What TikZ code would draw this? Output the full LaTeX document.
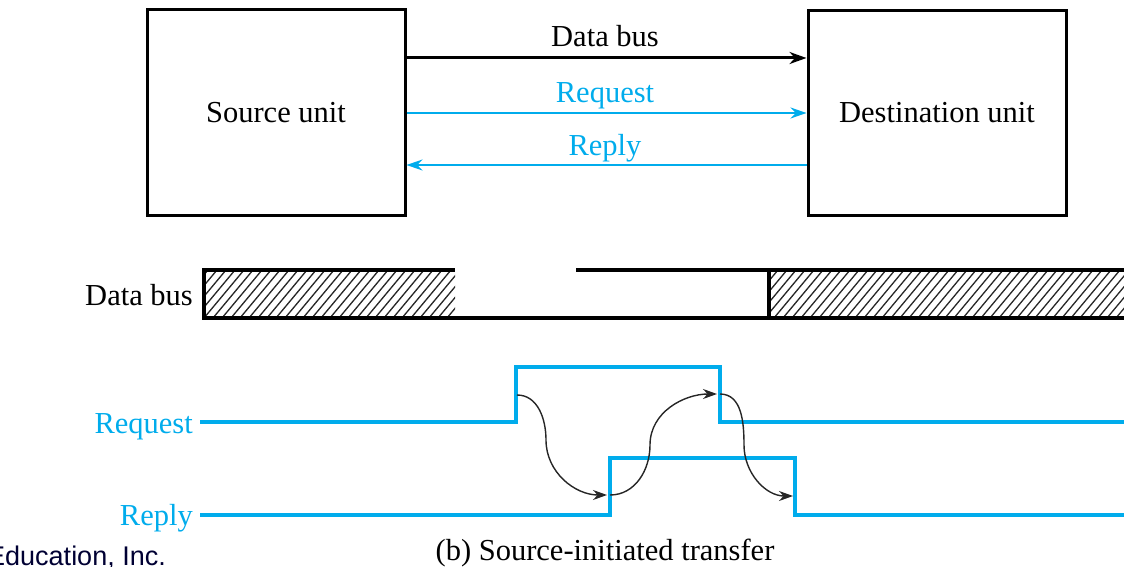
\documentclass[tikz,border=0pt]{standalone}
\usepackage{fontspec}
\setmainfont{Liberation Serif}
\newfontfamily\pubsans{Liberation Sans}
\usetikzlibrary{arrows.meta}
\definecolor{sig}{RGB}{0,172,236}
\tikzset{
  unitbox/.style={draw, line width=3pt, minimum width=258pt, minimum height=205pt, inner sep=0pt, font=\fontsize{30.5}{36}\selectfont},
  lbl/.style={anchor=base, font=\fontsize{30.5}{36}\selectfont, inner sep=0pt},
  busarrow/.style={line width=3pt, -{Stealth[length=17pt,width=12pt]}},
  sigarrow/.style={line width=1.8pt, draw=sig, -{Stealth[length=16pt,width=11pt]}},
  wave/.style={line width=4pt, draw=sig},
  barline/.style={line width=3.5pt},
  hatch/.style={line width=1.3pt, draw=black!85},
  causal/.style={line width=1.4pt, draw=black!85, -{Stealth[length=14pt,width=10pt]}}
}
\begin{document}
\begin{tikzpicture}[x=1pt,y=-1pt]
\useasboundingbox (0,0) rectangle (1124,567);
% top block diagram
\node[unitbox] (src) at (276,112.5) {Source unit};
\node[unitbox] (dst) at (937,113) {Destination unit};
\draw[busarrow] (src.east |- 0,58) -- (dst.west |- 0,58);
\draw[sigarrow] (src.east |- 0,113) -- (dst.west |- 0,113);
\draw[sigarrow] (dst.west |- 0,165) -- (src.east |- 0,165);
\node[lbl] (lbus) at (605,47) {Data bus};
\node[lbl, text=sig] (lreq) at (605,103) {Request};
\node[lbl, text=sig] (lrep) at (605,155) {Reply};
% data bus bar
\node[lbl, anchor=base east] (tbus) at (193,305) {Data bus};
\begin{scope}
  \clip (204,270) rectangle (455,318);
  \foreach \x in {150,159,...,470} \draw[hatch] (\x,318) -- ++(40,-48);
\end{scope}
\begin{scope}
  \clip (769,270) rectangle (1124,318);
  \foreach \x in {720,729,...,1130} \draw[hatch] (\x,318) -- ++(40,-48);
\end{scope}
\draw[barline] (204,270) -- (455,270);
\draw[barline] (576,270) -- (1124,270);
\draw[barline] (204,318) -- (1124,318);
\draw[barline] (204,268.25) -- (204,319.75);
\draw[barline] (769,270) -- (769,318);
% timing signals
\node[lbl, anchor=base east, text=sig] (treq) at (193,433) {Request};
\node[lbl, anchor=base east, text=sig] (trep) at (193,525) {Reply};
\coordinate (r0) at (200,422);
\coordinate (r1) at (516,422);
\coordinate (r2) at (516,367);
\coordinate (r3) at (720,367);
\coordinate (r4) at (720,422);
\coordinate (r5) at (1124,422);
\coordinate (p0) at (200,515);
\coordinate (p1) at (610,515);
\coordinate (p2) at (610,458);
\coordinate (p3) at (795,458);
\coordinate (p4) at (795,515);
\coordinate (p5) at (1124,515);
\draw[wave] (r0) -- (r1) -- (r2) -- (r3) -- (r4) -- (r5);
\draw[wave] (p0) -- (p1) -- (p2) -- (p3) -- (p4) -- (p5);
% causal arrows
\coordinate (a0) at (517,395);
\coordinate (a1) at (546,440);
\coordinate (a2) at (607,495);
\coordinate (b0) at (610,495);
\coordinate (b1) at (650,445);
\coordinate (b2) at (717,394);
\coordinate (c0) at (720,394);
\coordinate (c1) at (744,445);
\coordinate (c2) at (793,496);
\draw[causal] (a0) to[out=0,in=90] (a1) to[out=-90,in=180] (a2);
\draw[causal] (b0) to[out=0,in=-90] (b1) to[out=90,in=180] (b2);
\draw[causal] (c0) to[out=0,in=90] (c1) to[out=-90,in=180] (c2);
% caption
\node[lbl] (cap) at (605,560) {(b) Source-initiated transfer};
\node[anchor=base west, inner sep=0pt, font=\pubsans\fontsize{27}{32}\selectfont, text=black!80!blue] (pub) at (-13,565) {Education, Inc.};
\end{tikzpicture}
\end{document}
